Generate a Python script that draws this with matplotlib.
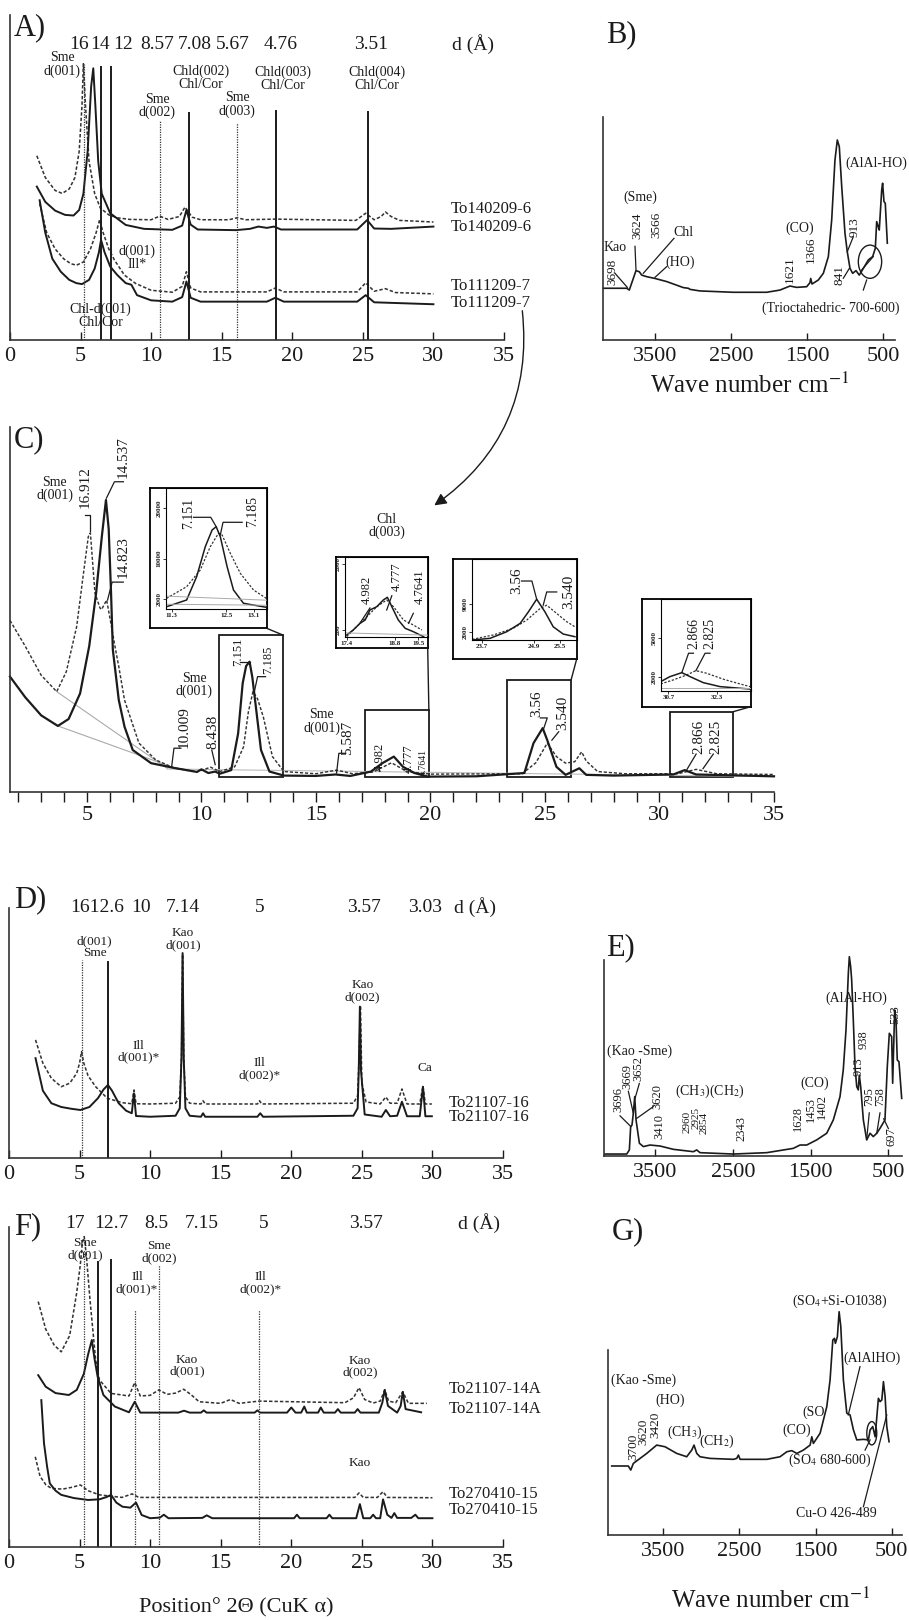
import matplotlib
matplotlib.use("Agg")
import matplotlib.pyplot as plt
from matplotlib.patches import Rectangle, Ellipse, ConnectionPatch, FancyArrowPatch

plt.rcParams["font.family"] = ["Liberation Serif", "DejaVu Serif"]
plt.rcParams["mathtext.fontset"] = "stix"

W, H = 909, 1620
INK = "#1b1b1b"
DASH = (0, (2.2, 1.3))

# ---------------- A) XRD, oriented aggregates (2 theta, counts in %) ----------------
a_x_top_dash = [1.9, 2.5, 3.2, 3.7, 4.2, 4.6, 4.9, 5.1, 5.2, 5.35, 5.6, 6.0, 6.4, 7.0, 7.6, 8.5, 10.0, 10.6,
                11.2, 12.0, 12.4, 12.9, 13.5, 15.5, 16.1, 16.7, 18.8, 24.5, 25.2, 25.8, 26.3, 26.6, 27.0, 27.6, 30.0]
a_y_top_dash = [56.7, 50.0, 46.0, 45.1, 46.5, 50.0, 58.0, 72.0, 85.0, 72.0, 55.0, 45.0, 40.6, 38.5, 37.6, 37.1, 37.0,
                38.1, 37.1, 38.0, 40.9, 37.8, 37.0, 37.0, 37.6, 37.0, 37.2, 36.8, 39.0, 37.0, 38.0, 39.4, 38.0, 36.8, 36.3]
a_x_top_solid = [1.9, 2.5, 3.2, 3.9, 4.5, 4.9, 5.2, 5.5, 5.75, 5.9, 6.05, 6.25, 6.5, 7.1, 8.2, 9.5, 11.5, 12.2,
                 12.5, 12.8, 13.3, 16.0, 17.0, 17.6, 18.2, 18.7, 19.2, 24.6, 25.3, 25.8, 27.0, 30.0]
a_y_top_solid = [47.2, 42.5, 39.8, 38.5, 38.3, 40.0, 45.0, 58.0, 78.0, 83.6, 72.0, 55.0, 45.0, 39.0, 35.4, 34.2,
                 33.9, 35.2, 40.0, 35.5, 34.0, 33.8, 34.2, 34.9, 34.5, 34.9, 34.0, 34.0, 36.9, 34.3, 34.2, 34.9]
a_x_bot_dash = [2.1, 2.6, 3.2, 3.8, 4.3, 4.7, 5.2, 5.7, 6.1, 6.35, 6.6, 7.0, 7.4, 8.1, 8.9, 10.0, 11.5, 12.2, 12.5,
                12.8, 13.5, 18.2, 18.8, 19.4, 24.6, 25.2, 25.8, 26.6, 27.3, 30.0]
a_y_bot_dash = [42.0, 33.0, 28.0, 25.0, 23.5, 23.0, 24.0, 28.0, 33.0, 37.0, 33.0, 28.0, 24.6, 20.0, 17.4, 15.3, 14.7,
                16.5, 21.0, 16.0, 14.8, 14.8, 16.0, 14.8, 14.8, 17.6, 15.0, 15.8, 14.6, 14.2]
a_x_bot_solid = [2.1, 2.5, 3.0, 3.6, 4.2, 4.7, 5.1, 5.6, 6.0, 6.3, 6.45, 6.7, 7.1, 7.6, 8.2, 8.6, 9.0, 10.0, 11.5,
                 12.2, 12.5, 12.8, 13.5, 18.2, 18.8, 19.4, 24.6, 25.2, 25.8, 30.0]
a_y_bot_solid = [43.0, 33.0, 25.0, 21.0, 18.5, 17.5, 17.2, 18.5, 22.0, 27.0, 30.8, 27.0, 22.6, 20.0, 17.5, 17.0, 13.8,
                 12.2, 11.8, 13.2, 18.0, 13.0, 11.8, 11.8, 13.0, 11.8, 11.8, 13.8, 11.6, 11.0]
a_dot_x, a_dot_top = [5.26, 10.63, 16.11], [85.0, 67.7, 66.8]
a_sol_x, a_sol_top = [6.42, 7.16, 12.66, 18.82, 25.38], [84.0, 84.0, 69.8, 70.5, 70.2]
a_d_labels = ["16", "14", "12", "8.57", "7.08", "5.67", "4.76", "3.51"]
a_d_pos = [4.9, 6.4, 8.0, 10.4, 13.1, 15.8, 19.2, 25.6]
a_samples = ["To140209-6", "To140209-6", "To111209-7", "To111209-7"]

# ---------------- B) FTIR (wavenumber, %) ----------------
b_wn = [4180, 3872, 3838, 3750, 3706, 3675, 3609, 3500, 3346, 3127, 3062, 3039, 2908, 2470, 2030, 1855, 1724,
        1636, 1504, 1461, 1451, 1434, 1351, 1285, 1219, 1175, 1132, 1101, 1075, 1043, 1000, 970, 934, 899, 855,
        812, 759, 693, 636, 601, 583, 562, 549, 517, 505, 487, 470, 443]
b_y = [23.2, 23.2, 22.4, 31.1, 30.6, 29.1, 28.4, 27.6, 26.2, 23.5, 23.2, 22.7, 22.0, 21.4, 21.4, 22.4, 24.2,
       23.6, 23.9, 25.7, 27.6, 25.1, 26.9, 29.9, 37.4, 53.8, 80.7, 89.7, 86.7, 68.8, 47.8, 39.6, 32.1, 29.9, 31.1,
       29.1, 32.1, 35.9, 37.4, 41.1, 53.1, 50.8, 49.3, 67.3, 70.3, 62.1, 61.3, 43.4]

# ---------------- C) XRD detail with fitted peaks ----------------
c_x_solid = [1.64, 2.3, 3.0, 3.73, 4.2, 4.7, 5.1, 5.4, 5.65, 5.83, 5.95, 6.05, 6.13, 6.39, 6.64, 7.0, 7.8, 8.8,
             9.8, 10.0, 10.3, 10.6, 10.8, 11.3, 11.6, 11.8, 11.95, 12.1, 12.22, 12.34, 12.6, 12.97, 13.6, 15.0,
             15.85, 16.5, 17.4, 17.9, 18.4, 18.8, 19.3, 19.9, 22.0, 24.1, 24.5, 24.9, 25.1, 25.5, 25.9, 26.5,
             26.8, 28.0, 30.6, 31.1, 31.6, 35.0]
c_y_solid = [31.6, 26.0, 21.0, 18.1, 20.0, 27.0, 40.0, 54.5, 70.0, 80.0, 72.0, 55.0, 39.0, 25.2, 17.9, 11.5, 7.9,
             6.6, 5.5, 6.2, 5.2, 5.6, 5.0, 6.0, 16.0, 29.8, 34.5, 35.7, 31.5, 25.2, 11.5, 5.6, 4.5, 4.4, 4.8,
             4.4, 5.6, 7.9, 9.7, 6.9, 5.2, 4.2, 4.3, 5.2, 13.4, 17.5, 14.2, 6.9, 4.7, 6.5, 4.7, 4.5, 4.8, 6.0,
             4.8, 4.3]
c_x_dash = [1.64, 2.3, 3.0, 3.68, 4.1, 4.55, 4.85, 5.06, 5.15, 5.35, 5.57, 5.64, 5.86, 6.08, 6.22, 6.4, 6.64,
            7.27, 8.0, 8.8, 9.8, 10.4, 10.8, 11.45, 11.84, 12.05, 12.25, 12.45, 12.7, 13.1, 13.6, 15.0, 15.9,
            16.6, 17.5, 18.3, 19.0, 20.0, 24.0, 24.6, 25.1, 25.5, 25.9, 26.3, 26.6, 26.8, 27.3, 28.5, 30.8,
            31.6, 32.5, 35.0]
c_y_dash = [47.0, 40.0, 32.0, 27.5, 33.0, 45.3, 60.0, 70.0, 71.0, 54.5, 50.4, 50.0, 52.6, 45.0, 40.0, 34.0, 25.2,
            13.4, 8.8, 6.6, 5.5, 6.8, 5.6, 6.9, 12.4, 22.0, 27.5, 25.5, 20.6, 9.7, 5.6, 5.0, 6.0, 5.0, 5.5, 8.0,
            5.5, 4.9, 5.0, 8.0, 13.4, 9.7, 7.9, 8.3, 11.0, 8.5, 5.6, 5.0, 5.0, 6.2, 5.0, 4.8]
c_zoom_windows = [(10.76, 13.56, 43.0), (17.14, 19.93, 22.5), (23.34, 26.14, 30.7), (30.44, 33.22, 22.0)]

i1_xs, i1_ys = [11.19, 11.63, 11.85, 12.04, 12.19, 12.28, 12.37, 12.52, 12.66, 12.88, 13.38], \
               [513, 1836, 6434, 12355, 15651, 16303, 14329, 8408, 3809, 1184, 395]
i1_xd, i1_yd = [11.19, 11.63, 11.93, 12.15, 12.33, 12.41, 12.59, 12.81, 13.10, 13.38], \
               [2171, 4461, 7757, 12355, 15000, 14664, 11053, 7105, 3809, 2171]
i2_xs, i2_ys = [17.40, 17.59, 17.79, 17.94, 18.08, 18.28, 18.47, 18.59, 18.72, 18.91, 19.11, 19.35, 19.65], \
               [63, 199, 382, 472, 745, 835, 1018, 1092, 835, 472, 246, 153, 16]
i2_xd, i2_yd = [17.40, 17.69, 17.99, 18.28, 18.57, 18.77, 19.06, 19.35, 19.6], \
               [16, 289, 562, 835, 1018, 835, 472, 336, 199]
i3_xs, i3_ys = [23.48, 23.89, 24.27, 24.58, 24.77, 24.96, 25.15, 25.34, 25.57, 25.84], \
               [0, 419, 2046, 4117, 6977, 10107, 6977, 3278, 1479, 813]
i3_xd, i3_yd = [23.48, 23.96, 24.42, 24.73, 25.04, 25.19, 25.42, 25.65, 25.84], \
               [173, 1232, 2884, 4930, 7813, 8627, 6583, 4536, 3278]
i4_xs, i4_ys = [30.45, 30.75, 31.14, 31.41, 31.84, 32.39, 33.04, 33.37], \
               [1609, 1999, 2312, 1999, 1531, 1218, 1093, 1030]
i4_xd, i4_yd = [30.45, 30.86, 31.3, 31.6, 31.95, 32.5, 33.04, 33.37], \
               [1429, 1742, 2132, 2468, 2265, 1796, 1429, 1218]

# ---------------- D) XRD ----------------
d_x_dash = [1.88, 2.4, 3.0, 3.7, 4.3, 4.8, 5.0, 5.14, 5.3, 5.6, 6.14, 6.96, 8.04, 8.7, 8.86, 9.0, 10.0, 11.8,
            12.1, 12.22, 12.3, 12.38, 12.5, 12.8, 13.6, 13.75, 13.9, 17.6, 17.75, 17.9, 24.4, 24.7, 24.8, 24.9,
            25.0, 25.3, 26.3, 26.7, 27.0, 27.5, 27.84, 28.2, 29.1, 29.33, 29.5, 29.96]
d_y_dash = [47.3, 38.0, 32.0, 28.6, 30.0, 34.0, 38.0, 42.6, 38.0, 33.0, 28.6, 24.0, 22.2, 21.8, 27.3, 21.8, 21.7,
            22.0, 24.5, 40.0, 81.5, 40.0, 24.5, 22.0, 21.7, 23.0, 21.7, 21.7, 23.0, 21.7, 22.0, 25.0, 40.0, 61.0,
            30.0, 22.5, 21.7, 24.5, 22.0, 22.0, 27.7, 21.7, 21.7, 28.9, 21.7, 21.7]
d_x_solid = [1.88, 2.4, 3.0, 3.7, 4.4, 5.06, 5.7, 6.3, 6.7, 7.01, 7.3, 7.77, 8.3, 8.7, 8.85, 9.0, 10.0, 11.8,
             12.1, 12.22, 12.3, 12.38, 12.5, 12.8, 13.6, 13.75, 13.9, 17.6, 17.8, 18.0, 24.4, 24.7, 24.78, 24.86,
             24.94, 25.2, 26.4, 26.7, 27.0, 27.5, 27.84, 28.2, 29.1, 29.33, 29.5, 29.96]
d_y_solid = [40.0, 27.0, 22.0, 20.5, 19.8, 19.3, 20.5, 24.0, 27.5, 29.3, 27.0, 22.0, 19.0, 18.0, 26.0, 16.9, 16.6,
             17.0, 20.0, 40.0, 82.0, 40.0, 20.0, 17.0, 16.6, 18.0, 16.6, 16.6, 18.0, 16.6, 17.0, 20.0, 35.0, 60.6,
             35.0, 17.5, 16.6, 19.3, 16.8, 17.0, 22.6, 16.8, 16.8, 28.6, 16.8, 16.8]
d_d_labels = ["1612.6", "10", "7.14", "5", "3.57", "3.03"]
d_d_pos = [6.24, 9.34, 12.33, 17.79, 25.13, 29.47]

# ---------------- E) FTIR ----------------
e_wn = [4143, 3864, 3830, 3813, 3796, 3779, 3761, 3744, 3701, 3650, 3564, 3436, 3264, 3007, 2964, 2922, 2494,
        2064, 1722, 1636, 1550, 1422, 1293, 1208, 1122, 1080, 1045, 1015, 1002, 985, 972, 951, 929, 907, 887,
        874, 856, 822, 779, 736, 694, 650, 608, 544, 514, 488, 458, 445, 419, 402, 386, 364, 329]
e_y = [1.0, 1.0, 3.1, 15.0, 15.8, 21.8, 30.3, 18.4, 6.5, 4.8, 5.6, 5.1, 3.4, 2.2, 3.1, 1.7, 1.0, 1.7, 3.9, 5.6,
       5.6, 8.2, 11.6, 18.4, 30.3, 43.9, 64.3, 93.2, 101.7, 96.6, 89.8, 69.4, 45.6, 35.4, 33.7, 41.3, 35.4, 18.4,
       8.2, 11.6, 9.9, 11.6, 14.1, 18.4, 45.6, 62.6, 60.9, 37.1, 74.5, 69.4, 49.0, 48.1, 29.4]

# ---------------- F) XRD ----------------
f_x_top_dash = [2.07, 2.6, 3.2, 3.7, 4.3, 4.79, 5.05, 5.2, 5.33, 5.5, 5.74, 6.14, 6.41, 7.23, 8.5, 8.91, 9.3,
                10.0, 10.62, 11.2, 11.8, 12.38, 12.9, 13.47, 15.0, 15.69, 16.3, 17.72, 23.8, 24.4, 24.8, 25.2,
                25.8, 26.3, 26.62, 26.9, 27.4, 27.9, 28.3, 29.6]
f_y_top_dash = [76.6, 68.0, 63.0, 60.9, 66.0, 79.2, 88.0, 95.0, 96.9, 90.0, 77.1, 58.3, 52.1, 47.9, 47.1, 51.3,
                47.1, 47.3, 49.0, 47.6, 48.0, 49.2, 47.5, 45.3, 44.8, 46.0, 44.8, 45.5, 45.0, 46.5, 49.7, 46.0,
                44.9, 45.5, 49.0, 45.5, 45.0, 48.4, 44.8, 44.8]
f_x_top_solid = [2.07, 2.6, 3.3, 4.24, 4.8, 5.3, 5.6, 5.87, 6.05, 6.28, 6.69, 7.5, 8.5, 8.91, 9.3, 12.0, 12.4,
                 12.8, 13.6, 13.8, 14.0, 17.4, 17.6, 17.8, 19.7, 20.0, 20.3, 20.7, 20.92, 21.1, 21.9, 22.09, 22.3,
                 23.1, 23.3, 23.5, 24.5, 24.7, 24.9, 26.2, 26.45, 26.62, 26.85, 27.5, 27.75, 27.9, 28.1, 29.2]
f_y_top_solid = [53.6, 50.0, 48.0, 47.4, 49.0, 54.0, 60.0, 64.6, 59.0, 53.1, 47.4, 43.8, 42.0, 45.3, 41.9, 41.9,
                 42.5, 41.9, 41.9, 42.6, 41.9, 41.9, 42.6, 41.9, 41.9, 43.5, 41.9, 41.9, 43.8, 41.9, 41.9, 43.5,
                 41.9, 41.9, 43.0, 41.9, 41.9, 43.0, 41.9, 41.9, 45.0, 49.0, 44.0, 41.9, 44.0, 48.4, 43.0, 42.0]
f_x_bot_dash = [1.86, 2.2, 2.62, 3.02, 3.8, 4.5, 5.06, 5.6, 6.41, 8.0, 8.72, 9.2, 24.5, 24.8, 25.1, 26.1, 26.5,
                26.8, 30.0]
f_y_bot_dash = [28.1, 22.0, 19.3, 18.2, 18.0, 18.6, 19.3, 17.5, 16.2, 15.4, 16.5, 15.4, 15.4, 16.8, 15.4, 15.4,
                17.2, 15.4, 15.3]
f_x_bot_solid = [2.29, 2.48, 2.7, 2.89, 3.3, 3.7, 4.6, 5.6, 6.4, 6.9, 7.23, 7.6, 8.04, 8.6, 9.0, 9.4, 10.0, 10.7,
                 10.97, 11.3, 13.7, 14.01, 14.4, 20.2, 20.4, 20.6, 22.5, 22.7, 22.9, 24.6, 24.86, 25.1, 25.6, 25.8,
                 26.0, 26.3, 26.5, 26.8, 27.1, 27.3, 27.5, 28.5, 28.79, 29.0, 30.0]
f_y_bot_solid = [45.8, 32.3, 25.0, 19.8, 17.5, 16.2, 15.2, 14.6, 14.8, 15.5, 16.2, 13.8, 12.5, 12.2, 13.8, 9.9,
                 8.9, 9.1, 10.0, 8.9, 9.0, 9.8, 8.9, 8.9, 10.0, 8.9, 8.9, 10.0, 8.9, 8.9, 13.3, 8.9, 8.9, 10.0,
                 8.9, 8.9, 14.8, 10.0, 9.0, 10.5, 9.0, 9.0, 10.0, 8.9, 8.9]
f_dot_x, f_dot_top = [5.33, 8.94, 10.62, 17.72], [92.7, 74.0, 88.0, 74.0]
f_sol_x, f_sol_top = [6.28, 7.23], [89.0, 89.6]
f_d_labels = ["17", "12.7", "8.5", "7.15", "5", "3.57"]
f_d_pos = [4.65, 7.23, 10.43, 13.68, 18.07, 25.27]

# ---------------- G) FTIR ----------------
g_wn = [4178, 3960, 3928, 3894, 3806, 3718, 3587, 3478, 3324, 3193, 3127, 3097, 3061, 3018, 2886, 2580, 2536,
        2514, 2492, 2141, 1967, 1878, 1813, 1747, 1660, 1572, 1550, 1529, 1441, 1353, 1310, 1274, 1253, 1240,
        1214, 1191, 1169, 1135, 1090, 1047, 1003, 959, 872, 806, 784, 749, 718, 675, 653, 630, 609, 587, 565, 535]
g_y = [37.3, 37.3, 35.1, 38.7, 41.4, 44.1, 48.6, 47.7, 44.1, 42.3, 45.9, 48.6, 44.1, 42.3, 41.4, 40.9, 41.4, 43.2,
       40.9, 40.9, 42.3, 45.0, 45.6, 44.1, 45.9, 48.6, 53.1, 49.5, 55.0, 69.4, 83.8, 105.4, 106.3, 103.6, 107.2,
       120.7, 112.6, 83.8, 65.8, 64.9, 56.8, 51.4, 51.7, 51.4, 56.8, 58.6, 53.1, 73.9, 72.1, 73.0, 82.9, 74.8,
       58.6, 50.4]

fig = plt.figure(figsize=(W / 100, H / 100), dpi=100)


def rect_px(x0, y0, x1, y1):
    return [x0 / W, 1 - y1 / H, (x1 - x0) / W, (y1 - y0) / H]


def fig_text(x, y, s, **kw):
    kw.setdefault("color", INK)
    fig.text(x / W, 1 - y / H, s, **kw)


def base_axes(box, xlim, ylim):
    ax = fig.add_axes(rect_px(*box))
    ax.patch.set_alpha(0)
    ax.set_xlim(*xlim)
    ax.set_ylim(*ylim)
    ax.spines[["top", "right"]].set_visible(False)
    ax.spines[["left", "bottom"]].set_linewidth(1.2)
    ax.spines[["left", "bottom"]].set_color("#333")
    ax.set_yticks([])
    return ax


def xrd_axes(box):
    ax = base_axes(box, (0, 35), (0, 100))
    ax.set_xticks(range(0, 36, 5))
    ax.tick_params(axis="x", direction="in", length=6, width=1, labelsize=16, pad=5, colors=INK)
    return ax


def ir_axes(box, xlim, ylim):
    ax = base_axes(box, xlim, ylim)
    ax.spines["left"].set_bounds(0, 100)
    ax.set_xticks([3500, 2500, 1500, 500])
    ax.tick_params(axis="x", direction="in", length=5, width=1, labelsize=16, pad=5, colors=INK)
    return ax


def trace(ax, x, y, dashed=False, lw=1.4):
    if dashed:
        ax.plot(x, y, color="#333", lw=lw * 0.8, ls=DASH, clip_on=False)
    else:
        ax.plot(x, y, color=INK, lw=lw, clip_on=False)


def ref_lines(ax, xs, tops, dotted):
    for x, t in zip(xs, tops):
        if dotted:
            ax.plot([x, x], [0, t], color="#333", lw=0.9, ls=(0, (1, 1)))
        else:
            ax.plot([x, x], [0, t], color=INK, lw=1.4)


def notes(ax, items, size=10, **kw):
    for s, x, y in items:
        ax.text(x, y, s, ha="center", va="center", fontsize=size, linespacing=1.0, color=INK, **kw)


def leaders(ax, paths, lw=0.9):
    for xs, ys in paths:
        ax.plot(xs, ys, color=INK, lw=lw, clip_on=False)


# ================= A =================
axA = xrd_axes((10, 15, 504, 340))
trace(axA, a_x_top_dash, a_y_top_dash, dashed=True)
trace(axA, a_x_top_solid, a_y_top_solid)
trace(axA, a_x_bot_dash, a_y_bot_dash, dashed=True)
trace(axA, a_x_bot_solid, a_y_bot_solid)
ref_lines(axA, a_dot_x, a_dot_top, True)
ref_lines(axA, a_sol_x, a_sol_top, False)
for s, x in zip(a_d_labels, a_d_pos):
    axA.text(x, 91, s, ha="center", va="center", fontsize=14, color=INK)
axA.text(32.8, 91, "d (Å)", ha="center", va="center", fontsize=14, color=INK)
notes(axA, [("Sme\nd(001)", 3.7, 84.8), ("Chld(002)\nChl/Cor", 13.5, 80.8), ("Chld(003)\nChl/Cor", 19.3, 80.4),
            ("Chld(004)\nChl/Cor", 26.0, 80.4), ("Sme\nd(002)", 10.45, 72.0), ("Sme\nd(003)", 16.1, 72.4),
            ("d(001)\nIll*", 9.0, 25.4), ("Chl-d(001)\nChl/Cor", 6.4, 7.4)])
for s, y in zip(a_samples, [40.3, 34.8, 16.6, 11.4]):
    axA.text(31.2, y, s, ha="left", va="center", fontsize=12, color=INK)
fig_text(14, 28, "A)", fontsize=22, ha="left", va="center")

# curved pointer from the lower A sample down to panel C
fig.add_artist(FancyArrowPatch(posA=(522 / W, 1 - 308 / H), posB=(432 / W, 1 - 507 / H),
                               transform=fig.transFigure, connectionstyle="arc3,rad=-0.3",
                               arrowstyle="-|>", mutation_scale=18, color=INK, lw=1.0))

# ================= B =================
axB = ir_axes((603, 117, 895, 340), (4184, 342), (0, 100))
trace(axB, b_wn, b_y, lw=1.2)
notes(axB, [("Kao", 4026, 41.7), ("(Sme)", 3688, 64.0), ("Chl", 3132, 48.1), ("(HO)", 3171, 34.8),
            ("(CO)", 1592, 50.1), ("(AlAl-HO)", 583, 79.2), ("(Trioctahedric- 700-600)", 1184, 14.2)])
notes(axB, [("3698", 4057, 30.6), ("3624", 3737, 51.0), ("3566", 3478, 51.5), ("1621", 1724, 31.4),
            ("1366", 1451, 40.4), ("913", 868, 50.8), ("841", 1066, 29.1)], size=9.5, rotation=90)
leaders(axB, [([4026, 3864], [29.9, 23.6]), ([3763, 3750], [42.0, 31.4]), ([3250, 3654], [45.6, 29.9]),
              ([3346, 3500], [32.9, 28.1]), ([891, 970], [46.3, 39.6]), ([1022, 943], [27.7, 32.1]),
              ([759, 715], [22.4, 26.9]), ([781, 628], [31.4, 37.4])])
axB.add_patch(Ellipse((671, 35.1), 307, 14.9, fill=False, ec=INK, lw=1.0))
fig_text(606, 35, "B)", fontsize=22, ha="left", va="center")
fig_text(750, 385, "Wave number cm$^{-1}$", fontsize=18, ha="center", va="center")

# ================= C =================
axC = base_axes((10, 427, 774, 792), (1.64, 35.0), (0, 100))
axC.set_xticks(range(5, 36, 5))
axC.set_xticks(range(2, 36), minor=True)
axC.tick_params(axis="x", which="both", direction="out", length=7, width=1, labelsize=16, pad=3, colors=INK)
axC.plot([3.68, 8.5], [27.5, 6.5], color="#aaa", lw=0.8)
axC.plot([3.73, 9.0], [18.1, 6.2], color="#aaa", lw=0.8)
axC.plot([8.5, 35.0], [6.3, 4.2], color="#bbb", lw=0.8)
trace(axC, c_x_dash, c_y_dash, dashed=True, lw=1.3)
trace(axC, c_x_solid, c_y_solid, lw=1.6)
for x0, x1, top in c_zoom_windows:
    axC.add_patch(Rectangle((x0, 4.1), x1 - x0, top - 4.1, fill=False, ec=INK, lw=1.3))
notes(axC, [("Sme\nd(001)", 3.6, 83.0), ("Sme\nd(001)", 9.68, 29.3), ("Sme\nd(001)", 15.25, 19.3),
            ("Chl\nd(003)", 18.09, 72.9)])
notes(axC, [("16.912", 4.91, 83.6), ("14.537", 6.59, 91.9), ("14.823", 6.59, 64.5), ("10.009", 9.25, 17.9),
            ("8.438", 10.52, 16.5), ("5.587", 16.39, 14.7), ("3.56", 24.62, 24.3), ("3.540", 25.76, 21.6),
            ("2.866", 31.71, 15.2), ("2.825", 32.47, 15.2)], size=11, rotation=90)
notes(axC, [("7.151", 11.58, 38.4), ("7.185", 12.9, 36.2), ("4.982", 17.78, 9.7), ("4.777", 19.05, 9.2)],
      size=9, rotation=90)
notes(axC, [("4.7641", 19.68, 8.2)], size=7, rotation=90)
leaders(axC, [([4.91, 5.12, 5.12], [76.0, 76.0, 71.5]), ([6.59, 6.2, 5.85], [85.0, 85.0, 80.5]),
              ([6.59, 6.1, 5.9], [57.5, 57.5, 52.6]), ([9.1, 8.8, 8.7], [12.0, 12.0, 7.0]),
              ([10.45, 10.6], [11.5, 7.5]), ([11.7, 12.1], [35.7, 35.7]), ([12.8, 12.45, 12.3], [31.6, 31.6, 27.2]),
              ([16.3, 16.0, 15.9], [10.6, 10.6, 5.2]), ([17.7, 17.8], [6.5, 5.7]),
              ([24.8, 25.1, 24.95], [20.3, 20.3, 17.5]), ([25.6, 25.3], [16.5, 14.2]),
              ([31.6, 31.2], [10.4, 6.2]), ([32.35, 31.9], [10.4, 6.4])])
fig_text(14, 440, "C)", fontsize=22, ha="left", va="center")


def inset(outer, inner, xlim, ylim, xt, yt, solid, dashed):
    frame = fig.add_axes(rect_px(*outer))
    frame.set_xticks([])
    frame.set_yticks([])
    frame.patch.set_alpha(0)
    for sp in frame.spines.values():
        sp.set_linewidth(1.3)
    ax = fig.add_axes(rect_px(*inner))
    ax.patch.set_alpha(0)
    ax.set_xlim(*xlim)
    ax.set_ylim(*ylim)
    ax.set_xticks(xt)
    ax.set_xticklabels([str(v) for v in xt])
    ax.set_yticks(yt)
    ax.set_yticklabels([str(v) for v in yt], rotation=90, va="center")
    ax.tick_params(labelsize=5, length=2, width=0.6, pad=1, colors=INK)
    for lbl in ax.get_xticklabels() + ax.get_yticklabels():
        lbl.set_fontweight("bold")
    ax.plot(*dashed, color="#333", lw=0.9, ls=(0, (1.8, 1.3)))
    ax.plot(*solid, color=INK, lw=1.1)
    return frame, ax


f1, in1 = inset((150, 487.7, 266.7, 628.3), (165.7, 487.7, 266.7, 609.3), (11.17, 13.39), (0, 24000),
                [11.3, 12.5, 13.1], [2000, 10000, 20000], (i1_xs, i1_ys), (i1_xd, i1_yd))
in1.plot([11.17, 13.39], [2600, 1800], color="#aaa", lw=0.7)
in1.plot([11.17, 13.39], [1000, 800], color="#aaa", lw=0.7)
notes(in1, [("7.151", 11.67, 18947), ("7.185", 13.07, 19263)], size=10, rotation=90)
leaders(in1, [([11.78, 12.16, 12.28], [18158, 18158, 16303]), ([12.85, 12.43, 12.37], [17171, 17171, 14664])])

f2, in2 = inset((336, 556.7, 427.7, 647.7), (345, 556.7, 427.7, 637.3), (17.35, 19.77), (0, 2200),
                [17.4, 18.8, 19.5], [200, 2000], (i2_xs, i2_ys), (i2_xd, i2_yd))
in2.plot([17.35, 19.77], [120, 60], color="#aaa", lw=0.7)
notes(in2, [("4.982", 17.99, 1291), ("4.777", 18.87, 1654), ("4.7641", 19.55, 1381)], size=9, rotation=90)
leaders(in2, [([18.08, 17.79], [800, 390]), ([18.72, 18.57], [1135, 745]), ([19.35, 19.21], [655, 382])])

f3, in3 = inset((453.3, 559.3, 576.7, 659), (472.3, 559.3, 576.7, 640), (23.48, 25.88), (0, 20000),
                [23.7, 24.9, 25.5], [2000, 9000], (i3_xs, i3_ys), (i3_xd, i3_yd))
notes(in3, [("3.56", 24.5, 14790), ("3.540", 25.69, 11906)], size=11, rotation=90)
leaders(in3, [([24.61, 24.85, 24.96], [14617, 14617, 10107]), ([25.42, 25.19, 25.11], [11906, 11906, 8628])])

f4, in4 = inset((641.7, 599, 750.7, 706.7), (660.7, 599, 750.7, 690.7), (30.45, 33.39), (900, 8070),
                [30.7, 32.3], [2000, 5000], (i4_xs, i4_ys), (i4_xd, i4_yd))
in4.plot([30.45, 33.39], [1150, 1150], color="#aaa", lw=0.7)
notes(in4, [("2.866", 31.52, 5389), ("2.825", 32.06, 5389)], size=10, rotation=90)
leaders(in4, [([31.52, 31.36, 31.14], [3830, 3830, 2312]), ([32.06, 31.9, 31.6], [3830, 3830, 2468])])

for frame, (x0, x1, top) in zip([f1, f2, f3, f4], c_zoom_windows):
    fig.add_artist(ConnectionPatch(xyA=(1, 0), coordsA=frame.transAxes, xyB=(x1, top),
                                   coordsB=axC.transData, color=INK, lw=1.0))

# ================= D =================
axD = xrd_axes((9, 908, 503, 1158.3))
trace(axD, d_x_dash, d_y_dash, dashed=True)
trace(axD, d_x_solid, d_y_solid)
ref_lines(axD, [5.14], [79.2], True)
ref_lines(axD, [7.0], [78.5], False)
for s, x in zip(d_d_labels, d_d_pos):
    axD.text(x, 100.3, s, ha="center", va="center", fontsize=14, color=INK)
axD.text(32.99, 100.3, "d (Å)", ha="center", va="center", fontsize=14, color=INK)
notes(axD, [("d(001)\nSme", 6.06, 84.5), ("Kao\nd(001)", 12.33, 87.7), ("Ill\nd(001)*", 9.18, 42.6),
            ("Ill\nd(002)*", 17.72, 35.7), ("Kao\nd(002)", 25.05, 66.8), ("Ca", 29.5, 36.0)], size=9.5)
for y in [22.2, 16.6]:
    axD.text(31.15, y, "To21107-16", ha="left", va="center", fontsize=12, color=INK)
fig_text(14, 900, "D)", fontsize=22, ha="left", va="center")

# ================= E =================
axE = ir_axes((604, 950.2, 902, 1156), (4156, 325), (0, 105))
trace(axE, e_wn, e_y, lw=1.2)
notes(axE, [("(Kao -Sme)", 3693, 53.2), ("(CH$_3$)(CH$_2$)", 2793, 32.8), ("(CO)", 1443, 37.1),
            ("(AlAl-HO)", 915, 80.5)])
notes(axE, [("3696", 3965, 28.6), ("3669", 3850, 40.5), ("3652", 3712, 44.7), ("3620", 3470, 30.3),
            ("3410", 3445, 15.0), ("2343", 2386, 14.1), ("1628", 1666, 19.2), ("1453", 1496, 23.5),
            ("1402", 1357, 25.2), ("913", 887, 45.6), ("938", 815, 59.2), ("533", 410, 72.0),
            ("795", 746, 30.3), ("758", 608, 30.3), ("697", 458, 9.8)], size=9, rotation=90)
notes(axE, [("2960", 3085, 17.5), ("2925", 2975, 19.2), ("2854", 2865, 17.0)], size=8, rotation=90)
leaders(axE, [([3950, 3810], [20.5, 15.0]), ([3843, 3780], [33.0, 22.0]), ([3702, 3760], [37.0, 29.0]),
              ([3522, 3735], [25.2, 19.2]), ([746, 779], [22.0, 8.5]), ([608, 650], [22.0, 11.5]),
              ([500, 560], [14.0, 19.0])])
fig_text(606, 948, "E)", fontsize=22, ha="left", va="center")

# ================= F =================
axF = xrd_axes((9, 1226.7, 503, 1546.7))
trace(axF, f_x_top_dash, f_y_top_dash, dashed=True)
trace(axF, f_x_top_solid, f_y_top_solid)
trace(axF, f_x_bot_dash, f_y_bot_dash, dashed=True)
trace(axF, f_x_bot_solid, f_y_bot_solid)
ref_lines(axF, f_dot_x, f_dot_top, True)
ref_lines(axF, f_sol_x, f_sol_top, False)
for s, x in zip(f_d_labels, f_d_pos):
    axF.text(x, 101, s, ha="center", va="center", fontsize=14, color=INK)
axF.text(33.3, 101, "d (Å)", ha="center", va="center", fontsize=14, color=INK)
notes(axF, [("Sme\nd(001)", 5.38, 93.0), ("Sme\nd(002)", 10.62, 92.0), ("Ill\nd(001)*", 9.07, 82.4),
            ("Ill\nd(002)*", 17.8, 82.4), ("Kao\nd(001)", 12.6, 56.6), ("Kao\nd(002)", 24.86, 56.3),
            ("Kao", 24.86, 26.0)], size=9.5)
for s, y in zip(["To21107-14A", "To21107-14A", "To270410-15", "To270410-15"], [49.2, 43.0, 16.4, 11.5]):
    axF.text(31.15, y, s, ha="left", va="center", fontsize=12, color=INK)
fig_text(14, 1227, "F)", fontsize=22, ha="left", va="center")
fig_text(236, 1608, "Position° 2Θ (CuK α)", fontsize=16, ha="center", va="center")

# ================= G =================
axG = ir_axes((608.3, 1294.5, 901.7, 1535), (4223, 369), (0, 130))
trace(axG, g_wn, g_y, lw=1.2)
notes(axG, [("(Kao -Sme)", 3763, 83.8), ("(HO)", 3412, 72.6), ("(CH$_3$)", 3215, 55.3), ("(CH$_2$)", 2798, 50.4),
            ("(CO)", 1747, 56.8), ("(SO", 1529, 66.6), ("(SO$_4$+Si-O1038)", 1178, 126.1),
            ("(AlAlHO)", 762, 95.5), ("(SO$_4$ 680-600)", 1310, 40.5), ("Cu-O 426-489", 1221, 11.7)])
notes(axG, [("3700", 3894, 47.7), ("3620", 3763, 55.8), ("3420", 3609, 59.5)], size=9.5, rotation=90)
leaders(axG, [([917, 1071], [91.0, 64.9]), ([872, 565], [15.3, 64.9]), ([850, 784], [45.9, 51.4])])
axG.add_patch(Ellipse((762, 55.0), 131, 12.6, fill=False, ec=INK, lw=1.0))
fig_text(612, 1232, "G)", fontsize=22, ha="left", va="center")
fig_text(771, 1600, "Wave number cm$^{-1}$", fontsize=18, ha="center", va="center")

fig.savefig("out.png", dpi=100)
